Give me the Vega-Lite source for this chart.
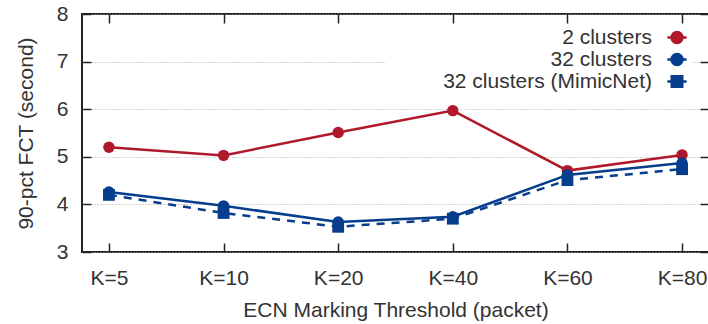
{
  "$schema": "https://vega.github.io/schema/vega-lite/v6.json",
  "width": 627,
  "height": 238,
  "autosize": "none",
  "padding": {"left": 82, "top": 14, "right": 0, "bottom": 72},
  "background": "white",
  "config": {
    "view": {"stroke": "#222", "strokeWidth": 2},
    "font": "Liberation Sans",
    "axis": {
      "domain": false,
      "tickColor": "#222",
      "tickWidth": 1.5,
      "tickSize": -9,
      "labelFont": "Liberation Sans",
      "labelFontSize": 21,
      "labelColor": "#333",
      "titleFont": "Liberation Sans",
      "titleFontSize": 21,
      "titleFontWeight": "normal",
      "titleColor": "#333"
    }
  },
  "data": {
    "values": [
      {"threshold": "K=5", "series": "2 clusters", "fct": 5.2},
      {"threshold": "K=10", "series": "2 clusters", "fct": 5.03},
      {"threshold": "K=20", "series": "2 clusters", "fct": 5.51},
      {"threshold": "K=40", "series": "2 clusters", "fct": 5.97},
      {"threshold": "K=60", "series": "2 clusters", "fct": 4.71},
      {"threshold": "K=80", "series": "2 clusters", "fct": 5.04},
      {"threshold": "K=5", "series": "32 clusters", "fct": 4.26},
      {"threshold": "K=10", "series": "32 clusters", "fct": 3.97},
      {"threshold": "K=20", "series": "32 clusters", "fct": 3.63},
      {"threshold": "K=40", "series": "32 clusters", "fct": 3.74},
      {"threshold": "K=60", "series": "32 clusters", "fct": 4.62},
      {"threshold": "K=80", "series": "32 clusters", "fct": 4.87},
      {"threshold": "K=5", "series": "32 clusters (MimicNet)", "fct": 4.2},
      {"threshold": "K=10", "series": "32 clusters (MimicNet)", "fct": 3.82},
      {"threshold": "K=20", "series": "32 clusters (MimicNet)", "fct": 3.53},
      {"threshold": "K=40", "series": "32 clusters (MimicNet)", "fct": 3.7},
      {"threshold": "K=60", "series": "32 clusters (MimicNet)", "fct": 4.51},
      {"threshold": "K=80", "series": "32 clusters (MimicNet)", "fct": 4.74}
    ]
  },
  "resolve": {"axis": {"x": "independent", "y": "independent"}},
  "layer": [
    {
      "transform": [{"filter": "datum.series !== '32 clusters (MimicNet)'"}],
      "mark": {"type": "line", "strokeWidth": 2.5},
      "encoding": {
        "x": {
          "field": "threshold", "type": "ordinal", "sort": null,
          "scale": {"type": "point", "padding": 0.235},
          "axis": {"orient": "bottom", "labelAngle": 0, "labelPadding": 24, "title": "ECN Marking Threshold (packet)", "titlePadding": 11, "grid": false}
        },
        "y": {
          "field": "fct", "type": "quantitative",
          "scale": {"domain": [3, 8], "nice": false, "zero": false},
          "axis": {"orient": "left", "values": [3, 4, 5, 6, 7, 8], "labelPadding": 23, "title": "90-pct FCT (second)", "titlePadding": 20, "grid": true, "gridColor": "#aaa", "gridDash": [1, 2], "gridWidth": 1}
        },
        "color": {
          "field": "series", "type": "nominal",
          "scale": {"domain": ["2 clusters", "32 clusters", "32 clusters (MimicNet)"], "range": ["#B0182C", "#063D8C", "#063D8C"]},
          "legend": {
            "title": null,
            "orient": "none",
            "legendX": 304,
            "legendY": 13,
            "padding": 0,
            "fillColor": "white",
            "rowPadding": 0,
            "labelFont": "Liberation Sans",
            "labelFontSize": 21,
            "labelColor": "#333",
            "labelLimit": 400,
            "encode": {
              "entries": {"update": {"width": {"value": 311}}},
              "labels": {"update": {"x": {"value": 266}, "align": {"value": "right"}}},
              "symbols": {"update": {
                "x": {"value": 291},
                "shape": {"signal": "datum.value === '32 clusters (MimicNet)' ? 'M-1.75,0L1.75,0M-0.95,-0.95L0.95,-0.95L0.95,0.95L-0.95,0.95Z' : 'M-1.75,0L1.75,0M-1,0A1,1 0 1,1 1,0A1,1 0 1,1 -1,0Z'"},
                "size": {"value": 121},
                "fill": {"signal": "scale('color', datum.value)"},
                "stroke": {"signal": "scale('color', datum.value)"},
                "strokeWidth": {"value": 2.5},
                "strokeDash": {"value": []},
                "opacity": {"value": 1}
              }}
            }
          }
        }
      }
    },
    {
      "transform": [{"filter": "datum.series === '32 clusters (MimicNet)'"}],
      "mark": {"type": "line", "strokeWidth": 2.5, "strokeDash": [8, 7]},
      "encoding": {
        "x": {"field": "threshold", "type": "ordinal", "sort": null, "scale": {"type": "point", "padding": 0.235}, "axis": null},
        "y": {"field": "fct", "type": "quantitative", "scale": {"domain": [3, 8], "nice": false, "zero": false}, "axis": null},
        "color": {"field": "series", "type": "nominal"}
      }
    },
    {
      "transform": [{"filter": "datum.series !== '32 clusters (MimicNet)'"}],
      "mark": {"type": "point", "shape": "circle", "filled": true, "opacity": 1, "size": 130},
      "encoding": {
        "x": {
          "field": "threshold", "type": "ordinal", "sort": null,
          "scale": {"type": "point", "padding": 0.235},
          "axis": {"orient": "top", "labels": false, "title": null, "grid": false}
        },
        "y": {
          "field": "fct", "type": "quantitative",
          "scale": {"domain": [3, 8], "nice": false, "zero": false},
          "axis": {"orient": "right", "values": [3, 4, 5, 6, 7, 8], "labels": false, "title": null, "grid": false}
        },
        "color": {"field": "series", "type": "nominal"}
      }
    },
    {
      "transform": [{"filter": "datum.series === '32 clusters (MimicNet)'"}],
      "mark": {"type": "point", "shape": "square", "filled": true, "opacity": 1, "size": 140},
      "encoding": {
        "x": {"field": "threshold", "type": "ordinal", "sort": null, "scale": {"type": "point", "padding": 0.235}, "axis": null},
        "y": {"field": "fct", "type": "quantitative", "scale": {"domain": [3, 8], "nice": false, "zero": false}, "axis": null},
        "color": {"field": "series", "type": "nominal"}
      }
    }
  ]
}
